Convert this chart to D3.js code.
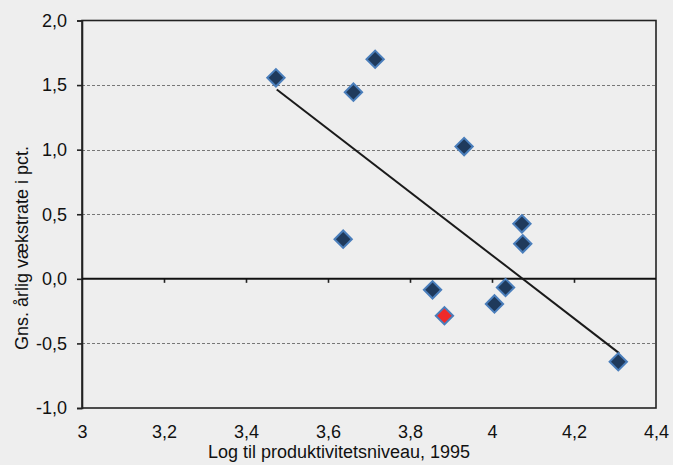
<!DOCTYPE html>
<html><head><meta charset="utf-8">
<script src="https://cdn.jsdelivr.net/npm/d3@7"></script>
<style>
html,body{margin:0;padding:0;background:#eeeeee;}
svg{display:block;font-family:"Liberation Sans",Arial,sans-serif;}
</style></head>
<body>
<script>
const xValues = [3.473, 3.715, 3.662, 3.932, 3.637, 4.073, 4.075, 3.855, 3.884, 4.033, 4.006, 4.308];
const yValues = [1.556, 1.700, 1.445, 1.024, 0.307, 0.426, 0.271, -0.085, -0.286, -0.067, -0.194, -0.642];
const highlight = [false, false, false, false, false, false, false, false, true, false, false, false];
const trendX = [3.475, 4.31];
const trendY = [1.466, -0.575];
const xTicks = [3, 3.2, 3.4, 3.6, 3.8, 4, 4.2, 4.4];
const yTicks = [-1, -0.5, 0, 0.5, 1, 1.5, 2];
const xTitle = "Log til produktivitetsniveau, 1995";
const yTitle = "Gns. årlig vækstrate i pct.";

const W = 673, H = 465;
const m = {left: 82, right: 656, top: 20.5, bottom: 408};
const svg = d3.select("body").append("svg").attr("width", W).attr("height", H);
svg.append("rect").attr("width", W).attr("height", H).attr("fill", "#eeeeee");

const x = d3.scaleLinear().domain([3, 4.4]).range([m.left, m.right]);
const y = d3.scaleLinear().domain([-1, 2]).range([m.bottom, m.top]);
const fmt = v => (v < 0 ? "-" : "") + Math.abs(v).toFixed(1).replace(".", ",");
const fmtX = v => String(+v.toFixed(1)).replace(".", ",");

// gridlines
svg.append("g").selectAll("line").data(yTicks.filter(v => v !== 0 && v !== 2 && v !== -1)).join("line")
  .attr("x1", m.left).attr("x2", m.right)
  .attr("y1", d => Math.round(y(d)) + 0.5).attr("y2", d => Math.round(y(d)) + 0.5)
  .attr("stroke", "#777").attr("stroke-width", 1).attr("stroke-dasharray", "3,2");

// border
svg.append("rect").attr("x", m.left).attr("y", m.top).attr("width", m.right - m.left).attr("height", m.bottom - m.top)
  .attr("fill", "none").attr("stroke", "#222").attr("stroke-width", 1.6);

// y axis
const yAxis = d3.axisLeft(y).tickValues(yTicks).tickFormat(fmt).tickSize(5).tickPadding(10);
const gy = svg.append("g").attr("transform", `translate(${m.left},0)`).call(yAxis);
gy.select(".domain").attr("stroke", "#222").attr("stroke-width", 1.6);
gy.selectAll(".tick line").attr("stroke", "#222").attr("stroke-width", 1.6);
gy.selectAll("text").attr("font-size", 18).attr("fill", "#111").attr("font-family", "Liberation Sans, Arial, sans-serif");

// x axis at zero
const xAxis = d3.axisBottom(x).tickValues(xTicks.slice(1, -1)).tickSize(4).tickFormat("");
const gx = svg.append("g").attr("transform", `translate(0,${y(0)})`).call(xAxis);
gx.select(".domain").remove();
gx.selectAll(".tick line").attr("stroke", "#222").attr("stroke-width", 1.6);
svg.append("line").attr("x1", m.left).attr("x2", m.right).attr("y1", y(0)).attr("y2", y(0))
  .attr("stroke", "#111").attr("stroke-width", 2);

// x tick labels at bottom
const xAxisB = d3.axisBottom(x).tickValues(xTicks).tickSize(0).tickPadding(17).tickFormat(fmtX);
const gxb = svg.append("g").attr("transform", `translate(0,${m.bottom})`).call(xAxisB);
gxb.select(".domain").remove();
gxb.selectAll("text").attr("font-size", 18).attr("fill", "#111").attr("font-family", "Liberation Sans, Arial, sans-serif");

// titles
svg.append("text").attr("x", (m.left + m.right) / 2 - 30).attr("y", 458).attr("text-anchor", "middle")
  .attr("font-size", 18).attr("fill", "#111").text(xTitle);
svg.append("text").attr("transform", `translate(28,248) rotate(-90)`).attr("text-anchor", "middle")
  .attr("font-size", 18).attr("fill", "#111").text(yTitle);

// trend line
svg.append("line").attr("x1", x(trendX[0])).attr("y1", y(trendY[0])).attr("x2", x(trendX[1])).attr("y2", y(trendY[1]))
  .attr("stroke", "#1a1a1a").attr("stroke-width", 2);

// points
const pts = xValues.map((v, i) => ({x: v, y: yValues[i], h: highlight[i]}));
const sym = d3.symbol().type(d3.symbolSquare).size(150);
svg.append("g").selectAll("path").data(pts).join("path")
  .attr("d", sym)
  .attr("transform", d => `translate(${x(d.x)},${y(d.y)}) rotate(45)`)
  .attr("fill", d => d.h ? "#ee2a2a" : "#1f3a5c")
  .attr("stroke", "#4a7ebb").attr("stroke-width", 2);
</script>
</body></html>
